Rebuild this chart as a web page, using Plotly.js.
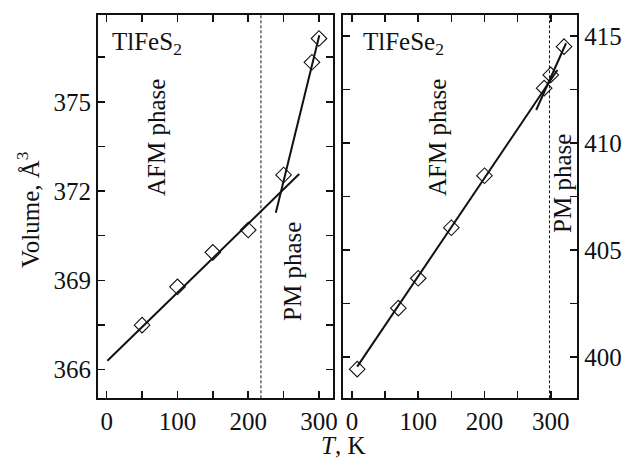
<!DOCTYPE html>
<html>
<head>
<meta charset="utf-8">
<script src="https://cdn.plot.ly/plotly-3.0.1.min.js"></script>
<style>html,body{margin:0;padding:0;background:#fff;}#plot{width:630px;height:459px;}</style>
</head>
<body>
<div id="plot"></div>
<script>
// ---- Data ----
const s2T = [50, 100, 150, 200, 250, 290, 300];
const s2V = [367.49, 368.78, 369.94, 370.69, 372.54, 376.33, 377.13];
const s2AfmFitT = [1, 272];
const s2AfmFitV = [366.29, 372.57];
const s2PmFitT = [239, 300.5];
const s2PmFitV = [371.27, 377.24];
const s2Transition = [218];

const se2T = [8, 70, 100, 150, 200, 290, 300, 320];
const se2V = [399.43, 402.28, 403.68, 406.04, 408.47, 412.56, 413.18, 414.50];
const se2AfmFitT = [8, 310];
const se2AfmFitV = [399.55, 413.41];
const se2PmFitT = [278, 323];
const se2PmFitV = [411.54, 414.66];
const se2Transition = [298];

const s2Ticks = [366, 369, 372, 375];
const se2Ticks = [400, 405, 410, 415];
const tTicks = [0, 100, 200, 300];

// ---- Styling ----
const FONT = '"Liberation Serif", "Times New Roman", Times, serif';
const fnt = (s) => ({family: FONT, size: s, color: '#111'});

const markerStyle = {symbol: 'diamond-open', size: 12, color: '#111', line: {width: 1.1, color: '#111'}};
const fitLine = {color: '#111', width: 2};

const traces = [
  {x: s2AfmFitT, y: s2AfmFitV, mode: 'lines', line: fitLine, xaxis: 'x', yaxis: 'y', hoverinfo: 'skip'},
  {x: s2PmFitT, y: s2PmFitV, mode: 'lines', line: fitLine, xaxis: 'x', yaxis: 'y', hoverinfo: 'skip'},
  {x: s2T, y: s2V, mode: 'markers', marker: markerStyle, xaxis: 'x', yaxis: 'y'},
  {x: se2AfmFitT, y: se2AfmFitV, mode: 'lines', line: fitLine, xaxis: 'x2', yaxis: 'y2', hoverinfo: 'skip'},
  {x: se2PmFitT, y: se2PmFitV, mode: 'lines', line: fitLine, xaxis: 'x2', yaxis: 'y2', hoverinfo: 'skip'},
  {x: se2T, y: se2V, mode: 'markers', marker: markerStyle, xaxis: 'x2', yaxis: 'y2'}
];

const W = 630, H = 459;
const yDom = [1 - 398.3 / H, 1 - 15 / H];

function axisBase(extra) {
  return Object.assign({
    showgrid: false, zeroline: false, showline: true, linecolor: '#111', linewidth: 2,
    mirror: 'ticks', ticks: 'inside', ticklen: 7, tickwidth: 1.5, tickcolor: '#111',
    tickfont: fnt(25), fixedrange: true
  }, extra);
}

const layout = {
  width: W, height: H,
  margin: {l: 0, r: 0, t: 0, b: 0},
  paper_bgcolor: '#fff', plot_bgcolor: '#fff',
  showlegend: false,
  font: fnt(25),
  xaxis: axisBase({domain: [98 / W, 333 / W], range: [-12.3, 319.8], anchor: 'y',
    tickmode: 'array', tickvals: tTicks, ticktext: tTicks.map(String),
    minor: {dtick: 50, tick0: 0, ticks: 'inside', ticklen: 7, tickwidth: 1.5, tickcolor: '#111', showgrid: false}}),
  yaxis: axisBase({domain: yDom, range: [365.03, 377.92], anchor: 'x',
    tickmode: 'array', tickvals: s2Ticks, ticktext: s2Ticks.map(String),
    minor: {dtick: 1.5, tick0: 366, ticks: 'inside', ticklen: 7, tickwidth: 1.5, tickcolor: '#111', showgrid: false}}),
  xaxis2: axisBase({domain: [343.3 / W, 577.3 / W], range: [-13, 340], anchor: 'y2',
    tickmode: 'array', tickvals: tTicks, ticktext: tTicks.map(String),
    minor: {dtick: 50, tick0: 0, ticks: 'inside', ticklen: 7, tickwidth: 1.5, tickcolor: '#111', showgrid: false}}),
  yaxis2: axisBase({domain: yDom, range: [398.07, 415.98], anchor: 'x2', side: 'right',
    tickmode: 'array', tickvals: se2Ticks, ticktext: se2Ticks.map(String),
    minor: {dtick: 2.5, tick0: 400, ticks: 'inside', ticklen: 7, tickwidth: 1.5, tickcolor: '#111', showgrid: false}}),
  shapes: [
    {type: 'line', xref: 'x', yref: 'y domain', x0: s2Transition[0], x1: s2Transition[0], y0: 0, y1: 1,
     line: {color: '#111', width: 1, dash: '3px,2px'}},
    {type: 'line', xref: 'x2', yref: 'y2 domain', x0: se2Transition[0], x1: se2Transition[0], y0: 0, y1: 1,
     line: {color: '#111', width: 1, dash: '3px,2px'}}
  ],
  annotations: [
    {text: 'TlFeS<sub>2</sub>', xref: 'paper', yref: 'paper', x: 110 / W, y: 1 - 43 / H,
     xanchor: 'left', yanchor: 'middle', showarrow: false, font: fnt(25)},
    {text: 'TlFeSe<sub>2</sub>', xref: 'paper', yref: 'paper', x: 361 / W, y: 1 - 43 / H,
     xanchor: 'left', yanchor: 'middle', showarrow: false, font: fnt(25)},
    {text: 'AFM phase', xref: 'paper', yref: 'paper', x: 156 / W, y: 1 - 138 / H,
     xanchor: 'center', yanchor: 'middle', textangle: -90, showarrow: false, font: fnt(25)},
    {text: 'PM phase', xref: 'paper', yref: 'paper', x: 292 / W, y: 1 - 272 / H,
     xanchor: 'center', yanchor: 'middle', textangle: -90, showarrow: false, font: fnt(25)},
    {text: 'AFM phase', xref: 'paper', yref: 'paper', x: 437.5 / W, y: 1 - 137.5 / H,
     xanchor: 'center', yanchor: 'middle', textangle: -90, showarrow: false, font: fnt(25)},
    {text: 'PM phase', xref: 'paper', yref: 'paper', x: 562 / W, y: 1 - 184 / H,
     xanchor: 'center', yanchor: 'middle', textangle: -90, showarrow: false, font: fnt(25)},
    {text: 'Volume, Å<sup>3</sup>', xref: 'paper', yref: 'paper', x: 28 / W, y: 1 - 210 / H,
     xanchor: 'center', yanchor: 'middle', textangle: -90, showarrow: false, font: fnt(25)},
    {text: '<i>T</i>, K', xref: 'paper', yref: 'paper', x: 343 / W, y: 1 - 445 / H,
     xanchor: 'center', yanchor: 'middle', showarrow: false, font: fnt(25)}
  ]
};

Plotly.newPlot('plot', traces, layout, {displayModeBar: false, staticPlot: true});
</script>
</body>
</html>
